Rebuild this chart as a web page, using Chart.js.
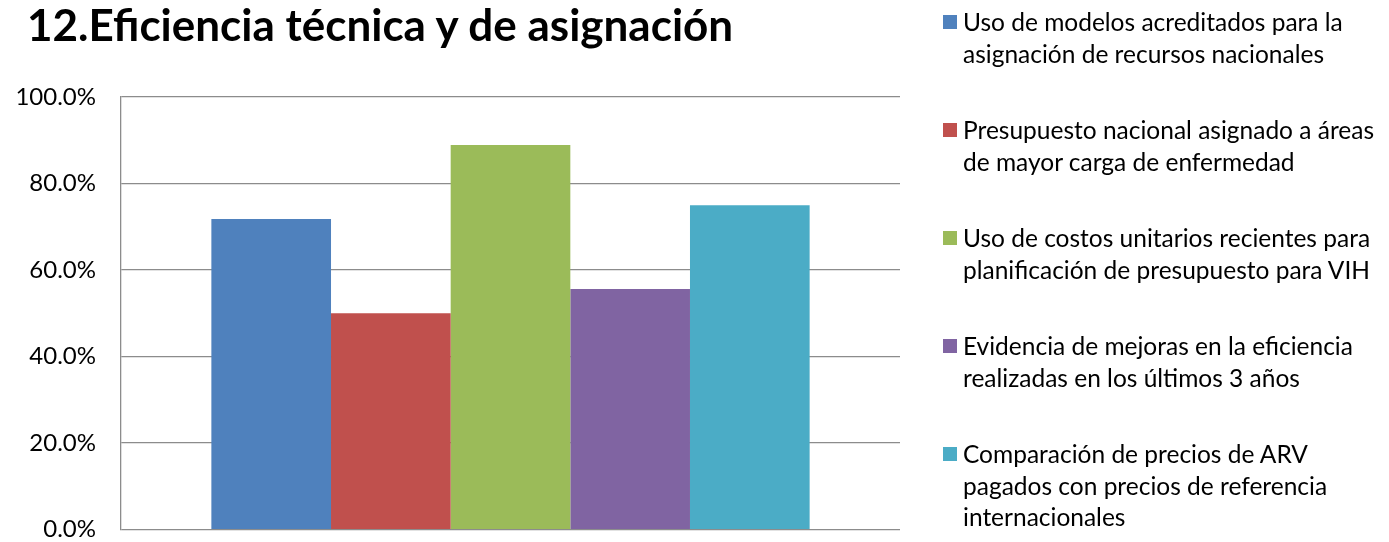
<!DOCTYPE html>
<html>
<head>
<meta charset="utf-8">
<script src="https://cdn.jsdelivr.net/npm/chart.js@4/dist/chart.umd.min.js"></script>
<style>
  body { margin: 0; background: #fff; }
  #wrap { position: relative; width: 1389px; height: 542px; overflow: hidden; }
  #chart { position: absolute; left: 0; top: 0; }
  #title { position: absolute; left: 27px; top: -2px; font: bold 44px Lato, sans-serif; color: #000; white-space: nowrap; }
  #legend { position: absolute; left: 943px; top: 6px; font: 24.5px Lato, sans-serif; color: #000; }
  .item { position: relative; padding-left: 20px; line-height: 31.5px; margin-bottom: 45px; white-space: nowrap; }
  .box { position: absolute; left: 0; top: 9px; width: 14px; height: 14px; }
</style>
</head>
<body>
<div id="wrap">
  <canvas id="chart" width="1389" height="569"></canvas>
  <div id="title"></div>
  <div id="legend"></div>
</div>
<script>
const chartTitle = '12.Eficiencia técnica y de asignación';
const categories = [''];
const seriesLabels = [
  ['Uso de modelos acreditados para la', 'asignación de recursos nacionales'],
  ['Presupuesto nacional asignado a áreas', 'de mayor carga de enfermedad'],
  ['Uso de costos unitarios recientes para', 'planificación de presupuesto para VIH'],
  ['Evidencia de mejoras en la eficiencia', 'realizadas en los últimos 3 años'],
  ['Comparación de precios de ARV', 'pagados con precios de referencia', 'internacionales']
];
const seriesValues = [71.8, 50.0, 88.9, 55.6, 75.0];
const seriesColors = ['#4F81BD', '#C0504D', '#9BBB59', '#8064A2', '#4BACC6'];
const yTicks = [0, 20, 40, 60, 80, 100];

document.getElementById('title').textContent = chartTitle;

// legend built by hand so the line breaks match
const legend = document.getElementById('legend');
seriesLabels.forEach((lines, i) => {
  const item = document.createElement('div');
  item.className = 'item';
  const box = document.createElement('span');
  box.className = 'box';
  box.style.background = seriesColors[i];
  item.appendChild(box);
  lines.forEach((line, j) => {
    if (j > 0) item.appendChild(document.createElement('br'));
    item.appendChild(document.createTextNode(line));
  });
  legend.appendChild(item);
});

const datasets = seriesValues.map((v, i) => ({
  label: seriesLabels[i].join(' '),
  data: [v],
  backgroundColor: seriesColors[i],
  borderWidth: 0
}));

new Chart(document.getElementById('chart'), {
  type: 'bar',
  data: { labels: categories, datasets: datasets },
  options: {
    responsive: false,
    animation: false,
    layout: { padding: { left: 0, top: 97, right: 489, bottom: 13 } },
    plugins: { legend: { display: false }, title: { display: false }, tooltip: { enabled: false } },
    datasets: { bar: { barPercentage: 1, categoryPercentage: 0.768 } },
    scales: {
      x: { display: false },
      y: {
        min: 0,
        max: 100,
        afterFit: (scale) => { scale.width = 121; },
        afterBuildTicks: (scale) => { scale.ticks = yTicks.map(v => ({ value: v })); },
        ticks: {
          padding: 25,
          color: '#000',
          font: { family: 'Lato', size: 24 },
          callback: (v) => v.toFixed(1) + '%'
        },
        grid: { color: '#8c8c8c', lineWidth: 1.3, drawTicks: false },
        border: { display: true, color: '#8c8c8c', width: 1.3 }
      }
    }
  }
});
</script>
</body>
</html>
